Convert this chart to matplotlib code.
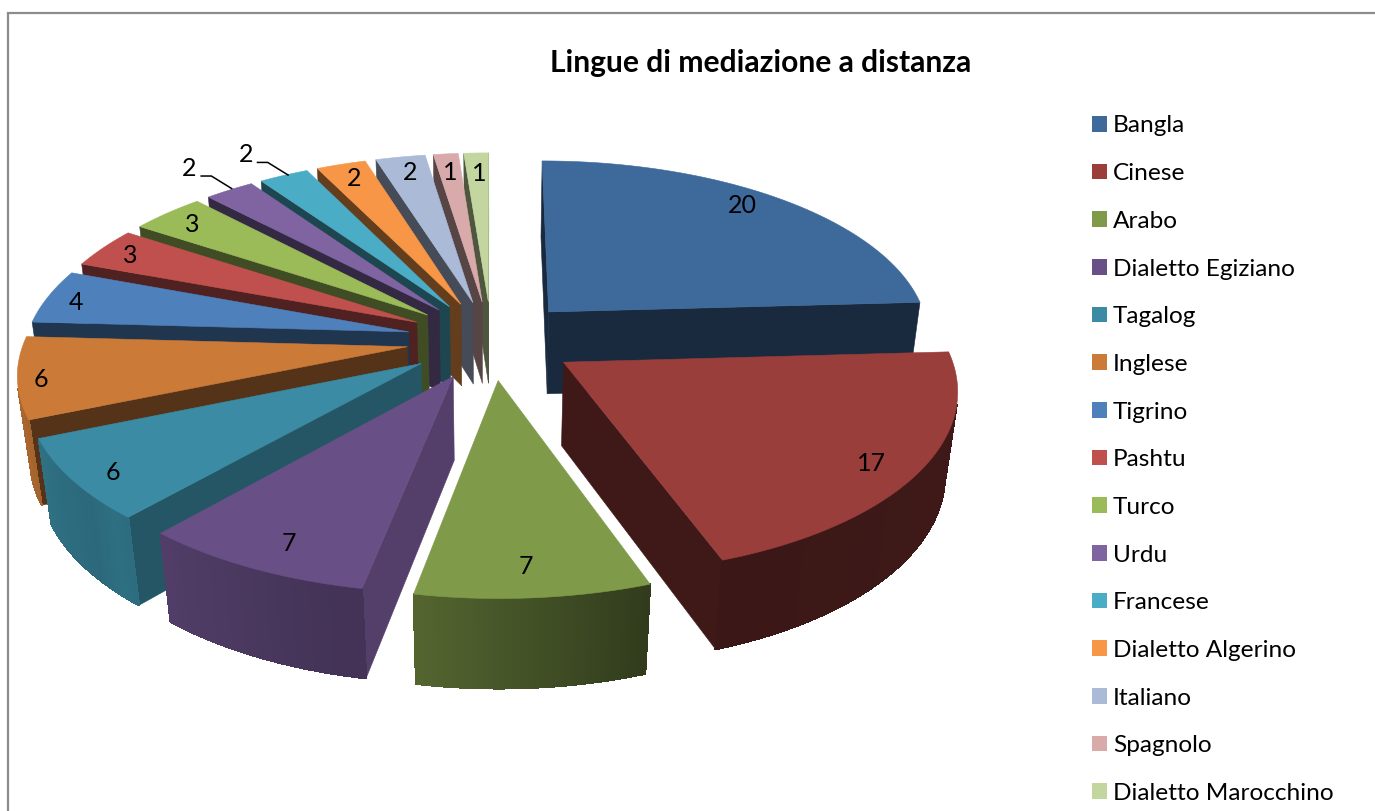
import numpy as np
import matplotlib
matplotlib.use("Agg")
import matplotlib.pyplot as plt
from matplotlib.patches import Polygon, Patch

plt.rcParams['font.family'] = ['Lato', 'DejaVu Sans']

categories = ["Bangla", "Cinese", "Arabo", "Dialetto Egiziano", "Tagalog", "Inglese", "Tigrino",
              "Pashtu", "Turco", "Urdu", "Francese", "Dialetto Algerino", "Italiano", "Spagnolo",
              "Dialetto Marocchino"]
values = [20, 17, 7, 7, 6, 6, 4, 3, 3, 2, 2, 2, 2, 1, 1]
colors = ["#3E699B", "#9A3E3C", "#7F9A49", "#684F85", "#3A8BA3", "#CB7A38", "#4E80BC", "#C0504D",
          "#9BBB59", "#8064A2", "#4BACC6", "#F79646", "#AABAD7", "#D9AAAA", "#C3D6A0"]
title = "Lingue di mediazione a distanza"

# layout of the 3-D pie (figure pixels)
CX, CY = 491.5, 340.0
R, EXPL = 383.0, 85.0
TILT, PERSP, PERSP_Z = 0.464, 3.43e-4, 3.2e-4
DEPTH = 85.0
LABEL_FRAC = [0.80, 0.82, 0.80, 0.70, 0.62, 0.90, 0.88, 0.88, 0.88, 1.0, 1.0, 0.88, 0.88, 0.88, 0.88]
LABEL_DX = [6, 20, 0, -29, -99, -16, -15, -9, -4, 3, 5, 0, 2, 1, 2]
LABEL_DY = [-14, 13, 17, 38, 39, 5, 2, -1, 0, -1, 0, -1, 0, 3, 4]

fig = plt.figure(figsize=(13.75, 8.11), dpi=100)
ax = fig.add_axes([0, 0, 1, 1])
ax.set_xlim(0, 1375)
ax.set_ylim(811, 0)
ax.axis("off")


def project(X, Y, Z=0.0):
    s = 1.0 / (1.0 + PERSP * Y - PERSP_Z * Z)
    return CX + X * s, CY - TILT * Y * s - Z * s


def shade(col, f):
    return tuple(np.clip(np.array(matplotlib.colors.to_rgb(col)) * f, 0, 1))


RIM_A = [0, 87, 160, 190, 195, 225, 230, 260, 300, 360]
RIM_F = [.45, .42, .38, .65, .65, .80, .75, .85, .90, .90]
WALL_A = [0, 160, 190, 221, 247, 360]
WALL_F = [.40, .40, .80, .62, .42, .40]

total = sum(values)
edges = np.concatenate([[0], np.cumsum(values)]) / total * 360.0
order = sorted(range(len(values)), key=lambda i: -np.cos(np.radians((edges[i] + edges[i + 1]) / 2)))


def cross(p, q, r):
    return (q[0] - p[0]) * (r[1] - p[1]) - (q[1] - p[1]) * (r[0] - p[0])


for i in order:
    a0, a1 = edges[i], edges[i + 1]
    mid = np.radians((a0 + a1) / 2)
    ox, oy = EXPL * np.sin(mid), EXPL * np.cos(mid)
    th = np.radians(np.linspace(a0, a1, max(8, int((a1 - a0) * 2))))
    rx, ry = ox + R * np.sin(th), oy + R * np.cos(th)
    top = [project(x, y) for x, y in zip(rx, ry)]
    bot = [project(x, y, -DEPTH) for x, y in zip(rx, ry)]
    apex_t, apex_b = project(ox, oy), project(ox, oy, -DEPTH)
    interior = project(ox + .5 * R * np.sin(mid), oy + .5 * R * np.cos(mid))
    # flat side walls
    for idx, ang in ((0, a0), (-1, a1)):
        c1 = cross(apex_t, top[idx], apex_b)
        c2 = cross(apex_t, top[idx], interior)
        if c1 * c2 < 0:
            f = np.interp(ang, WALL_A, WALL_F)
            col = shade(colors[i], f)
            ax.add_patch(Polygon([apex_t, top[idx], bot[idx], apex_b], closed=True, fc=col, ec=col, lw=.4))
    # curved rim, in thin shaded strips
    for k in range(len(top) - 1):
        c1 = cross(top[k], top[k + 1], bot[k])
        c2 = cross(top[k], top[k + 1], apex_t)
        if c1 * c2 < 0:
            f = np.interp(np.degrees((th[k] + th[k + 1]) / 2), RIM_A, RIM_F)
            col = shade(colors[i], f)
            ax.add_patch(Polygon([top[k], top[k + 1], bot[k + 1], bot[k]], closed=True, fc=col, ec=col,
                                 lw=.8, antialiased=False))
    ax.add_patch(Polygon([apex_t] + top, closed=True, fc=colors[i], ec=colors[i], lw=.4))

# data labels
for i in range(len(values)):
    mid = np.radians((edges[i] + edges[i + 1]) / 2)
    ox, oy = EXPL * np.sin(mid), EXPL * np.cos(mid)
    r = R * LABEL_FRAC[i]
    x, y = project(ox + r * np.sin(mid), oy + r * np.cos(mid))
    x, y = x + LABEL_DX[i], y + LABEL_DY[i]
    if categories[i] in ("Urdu", "Francese"):
        ax.plot([x, x - 21, x - 32], [y, y - 13, y - 13], color="black", lw=1.1, solid_capstyle="butt")
        x, y = x - 43, y - 21
    ax.text(x, y, str(values[i]), ha="center", va="center", fontsize=18, color="black")

ax.text(761, 63, title, ha="center", va="center", fontsize=21.6, fontweight="bold", color="black")

# chart area frame
ax.plot([8.5, 8.5, 1375], [811, 12.5, 12.5], color="#8C8C8C", lw=1.6, solid_joinstyle="miter")

fs = 17.6
handles = [Patch(fc=c, ec=c, lw=0) for c in colors]
ax.legend(handles, categories, loc="upper left", bbox_to_anchor=(1092 / 1375, 1 - 115.5 / 811), frameon=False,
          fontsize=fs, borderpad=0, borderaxespad=0, handlelength=10.8 / fs, handleheight=10.8 / fs,
          handletextpad=4.3 / fs, labelspacing=(34.6 - 15.4) / fs)

fig.savefig("out.png", dpi=100)
